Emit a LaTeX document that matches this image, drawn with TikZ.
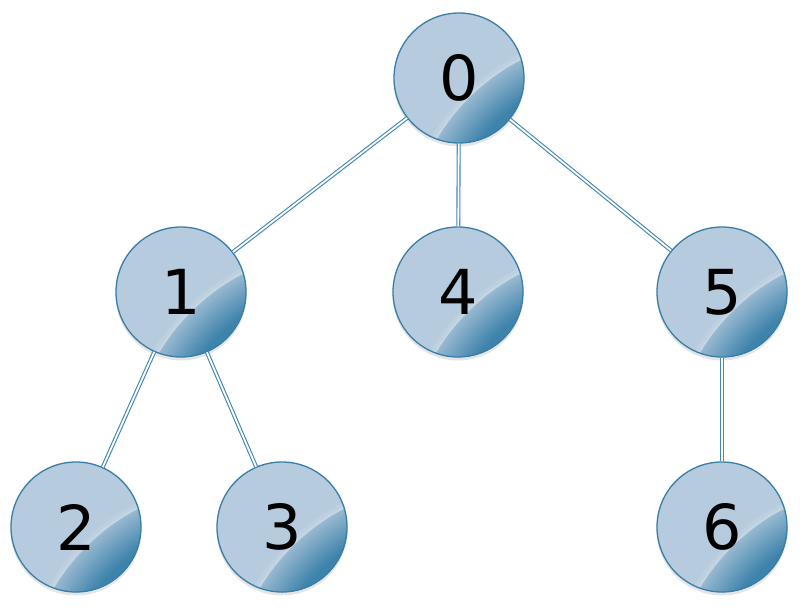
\documentclass[tikz,border=0pt]{standalone}
\usepackage{fontspec}
\setmainfont{DejaVu Sans}
\definecolor{lightb}{RGB}{182,203,221}
\definecolor{sheen}{RGB}{196,213,227}
\definecolor{darkb}{RGB}{62,131,172}
\definecolor{borderb}{RGB}{56,126,166}
\definecolor{edgeb}{RGB}{66,136,178}
\tikzset{
  treenode/.style={circle, minimum size=130pt, inner sep=0pt, fill=lightb,
    path picture={
      \coordinate (sc) at ([shift={(160,170)}]path picture bounding box.center);
      \fill[lightb!50!sheen] (sc) circle (218);
      \fill[sheen] (sc) circle (214.5);
      \foreach \i [evaluate=\i as \r using 212-1.5*\i, evaluate=\i as \c using 74*(1-\i/24)] in {0,...,24}{
        \fill[lightb!\c!darkb] (sc) circle (\r);
      }
    },
    draw=borderb, line width=1.3pt, font=\fontsize{62}{62}\selectfont, text=black},
  treeedge/.style={draw=edgeb, double=white, double distance=1.8pt, line width=1.1pt},
  shadowc/.style={fill=black, opacity=0.10}
}
\begin{document}
\begin{tikzpicture}[x=1pt,y=-1pt]
\useasboundingbox (0,0) rectangle (800,607);
\foreach \p in {(459,78),(181,292),(458,292),(722,292),(76,527),(282,527),(722,527)}{
  \fill[shadowc] \p ++(0,3) circle (65.5pt);
}
\node[treenode] (n0) at (459,78) {0};
\node[treenode] (n1) at (181,292) {1};
\node[treenode] (n4) at (458,292) {4};
\node[treenode] (n5) at (722,292) {5};
\node[treenode] (n2) at (76,527) {2};
\node[treenode] (n3) at (282,527) {3};
\node[treenode] (n6) at (722,527) {6};
\draw[treeedge] (n0) -- (n1);
\draw[treeedge] (n0) -- (n4);
\draw[treeedge] (n0) -- (n5);
\draw[treeedge] (n1) -- (n2);
\draw[treeedge] (n1) -- (n3);
\draw[treeedge] (n5) -- (n6);
\end{tikzpicture}
\end{document}
